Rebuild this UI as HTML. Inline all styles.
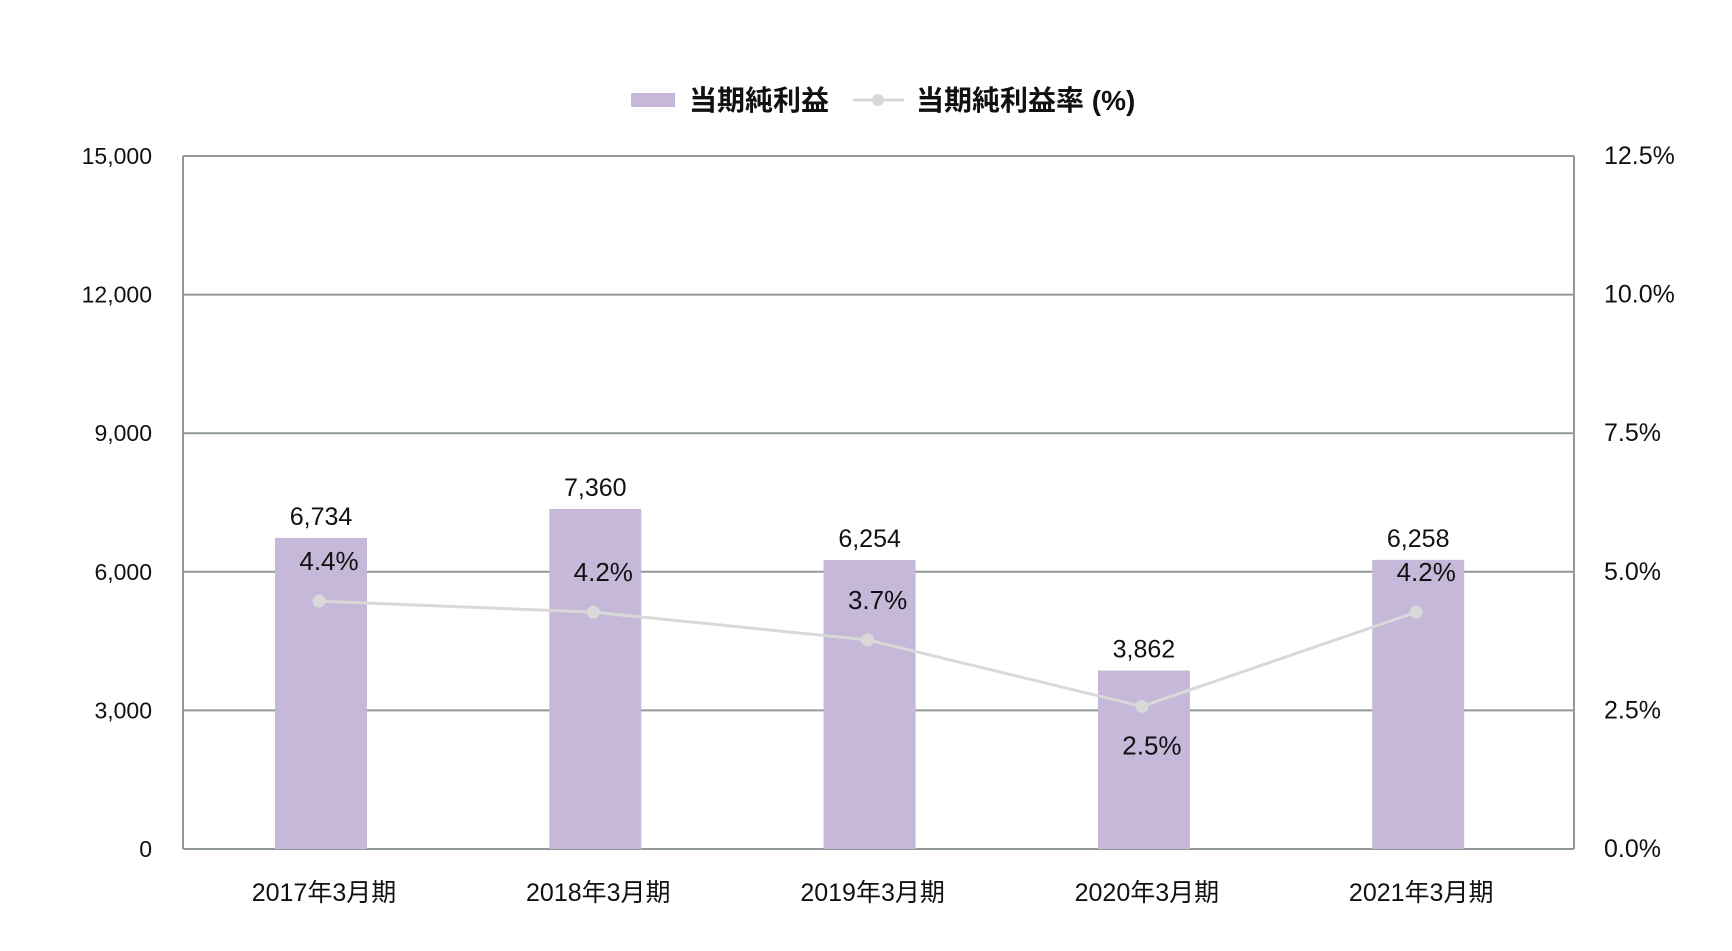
<!DOCTYPE html>
<html><head><meta charset="utf-8"><style>
html,body{margin:0;padding:0;background:#fff;}
svg text{font-family:"Liberation Sans","Noto Sans CJK JP",sans-serif;fill:#111;}
</style></head><body>
<svg id="chart" width="1732" height="946" xmlns="http://www.w3.org/2000/svg">
<g id="legend">
  <rect x="631" y="93" width="44" height="14" fill="#c5b8d8"/>
  <text x="689" y="110" font-size="28" font-weight="bold">当期純利益</text>
  <line x1="853" y1="100" x2="904" y2="100" stroke="#d9d9d9" stroke-width="3"/>
  <circle cx="878" cy="100" r="6" fill="#d9d9d9"/>
  <text x="916" y="110" font-size="28" font-weight="bold">当期純利益率 (%)</text>
</g>
<g id="grid"></g><g id="bars"></g><g id="line"></g><g id="labels"></g>
</svg>
<script>
const categories = ["2017年3月期","2018年3月期","2019年3月期","2020年3月期","2021年3月期"];
const netIncome = [6734, 7360, 6254, 3862, 6258];
const marginPct = [4.4, 4.2, 3.7, 2.5, 4.2];
const leftTicks = [0, 3000, 6000, 9000, 12000, 15000];
const rightTicks = [0, 2.5, 5.0, 7.5, 10.0, 12.5];

const NS = "http://www.w3.org/2000/svg";
const L = 183, R = 1574, T = 156, B = 849;
const yL = v => B - v / 15000 * (B - T);
const yR = v => B - v / 12.5 * (B - T);
const xC = i => 321 + i * 274.3;
const BW = 92;
function mk(tag, attrs, parent) {
  const e = document.createElementNS(NS, tag);
  for (const k in attrs) e.setAttribute(k, attrs[k]);
  parent.appendChild(e); return e;
}
const grid = document.getElementById('grid');
leftTicks.forEach((t, i) => {
  const y = yL(t);
  const ln = mk('line', {x1: L, x2: R, y1: y, y2: y, stroke: '#909a99', 'stroke-width': 2}, grid);
  
  
  const tx = mk('text', {x: 152, y: y + 8, 'font-size': 23, 'text-anchor': 'end'}, grid);
  tx.textContent = t.toLocaleString('en-US');
  
  
});
rightTicks.forEach(t => {
  const y = yR(t);
  const tx = mk('text', {x: 1604, y: y + 8, 'font-size': 25}, grid);
  tx.textContent = t.toFixed(1) + '%';
  
  
});
const vl = mk('line', {x1: L, x2: L, y1: T, y2: B, stroke: '#909a99', 'stroke-width': 2}, grid);


const vr = mk('line', {x1: R, x2: R, y1: T, y2: B, stroke: '#909a99', 'stroke-width': 2}, grid);



const bars = document.getElementById('bars');
const labels = document.getElementById('labels');
netIncome.forEach((v, i) => {
  const r = mk('rect', {x: xC(i) - BW / 2, y: yL(v), width: BW, height: B - yL(v), fill: '#c5b8d8'}, bars);
  
  
  const t = mk('text', {x: xC(i), y: yL(v) - 13, 'font-size': 25, 'text-anchor': 'middle'}, labels);
  t.textContent = v.toLocaleString('en-US');
  
  
  const c = mk('text', {x: xC(i) + 3, y: 901, 'font-size': 25, 'text-anchor': 'middle'}, labels);
  c.textContent = categories[i];
  
  
});
const lineG = document.getElementById('line');
const pts = marginPct.map((p, i) => (xC(i) - 2) + ',' + (yR(p) - 4)).join(' ');
const pl = mk('polyline', {points: pts, fill: 'none', stroke: '#d9d9d9', 'stroke-width': 3}, lineG);


marginPct.forEach((p, i) => {
  const c = mk('circle', {cx: xC(i) - 2, cy: yR(p) - 4, r: 6.5, fill: '#d9d9d9'}, lineG);
  
  
  const below = p < 3;
  const t = mk('text', {x: xC(i) + 8, y: below ? yR(p) + 44 : yR(p) - 35, 'font-size': 26, 'text-anchor': 'middle'}, labels);
  t.textContent = p.toFixed(1) + '%';
  
  
});
</script>
</body></html>
